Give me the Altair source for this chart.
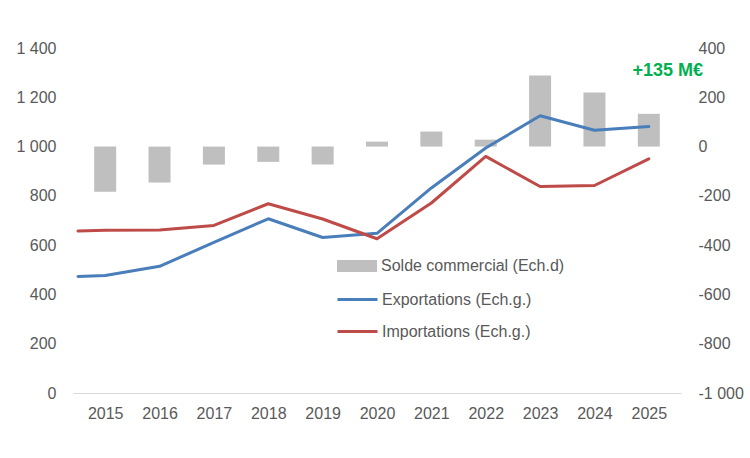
import altair as alt
import pandas as pd

years = [2015, 2016, 2017, 2018, 2019, 2020, 2021, 2022, 2023, 2024, 2025]
solde = [-183, -146, -73, -62, -73, 20, 61, 28, 288, 219, 133]

# lines start at the left edge of the plot area
line_years = [2014.5] + years
exports = [473, 477, 514, 611, 707, 631, 648, 832, 994, 1125, 1066, 1081]
imports = [657, 660, 661, 680, 768, 706, 626, 771, 960, 838, 842, 950]

left_ticks = [0, 200, 400, 600, 800, 1000, 1200, 1400]
right_ticks = [-1000, -800, -600, -400, -200, 0, 200, 400]

S_NAME = "Solde commercial (Ech.d)"
E_NAME = "Exportations (Ech.g.)"
I_NAME = "Importations (Ech.g.)"

bars_df = pd.DataFrame({"year": years, "value": solde, "series": S_NAME})
lines_df = pd.concat([
    pd.DataFrame({"year": line_years, "value": exports, "series": E_NAME}),
    pd.DataFrame({"year": line_years, "value": imports, "series": I_NAME}),
])

GREY = "#595959"
label_expr = "replace(replace(format(datum.value, ','), ',', ' '), '\u2212', '-')"

x_enc = alt.X(
    "year:Q",
    scale=alt.Scale(domain=[2014.5, 2025.5], nice=False, zero=False),
    axis=alt.Axis(values=years, format="d", title=None, ticks=False, grid=False,
                  domainColor="#D9D9D9", domainWidth=1, labelColor=GREY,
                  labelFontSize=16, labelPadding=12, labelFlush=False),
)

bars = alt.Chart(bars_df).mark_bar(size=22, color="#BFBFBF").encode(
    x=x_enc,
    y=alt.Y("value:Q",
            scale=alt.Scale(domain=[-1000, 400], nice=False),
            axis=alt.Axis(orient="right", values=right_ticks, title=None, grid=False,
                          ticks=False, domain=False, labelColor=GREY, labelFontSize=16,
                          labelPadding=17, labelExpr=label_expr)),
    fill=alt.Fill("series:N",
                  scale=alt.Scale(domain=[S_NAME], range=["#BFBFBF"]),
                  legend=alt.Legend(orient="none", legendX=274, legendY=208, title=None,
                                    symbolType="M-2,-0.6H2V0.6H-2Z", symbolSize=400,
                                    symbolStrokeWidth=0, labelFontSize=16, labelColor=GREY,
                                    labelOffset=14, labelLimit=400, padding=0, offset=0)),
)

lines = alt.Chart(lines_df).mark_line(strokeWidth=3, strokeJoin="round", strokeCap="round").encode(
    x=x_enc,
    y=alt.Y("value:Q",
            scale=alt.Scale(domain=[0, 1400], nice=False),
            axis=alt.Axis(orient="left", values=left_ticks, title=None, grid=False,
                          ticks=False, domain=False, labelColor=GREY, labelFontSize=16,
                          labelPadding=17, labelExpr=label_expr)),
    color=alt.Color("series:N",
                    scale=alt.Scale(domain=[E_NAME, I_NAME], range=["#4A7EBB", "#BE4B48"]),
                    legend=alt.Legend(orient="none", legendX=273, legendY=240, title=None,
                                      symbolType="M-2,0H2", symbolSize=400,
                                      symbolStrokeWidth=3, labelFontSize=16, labelColor=GREY,
                                      labelOffset=13, labelLimit=400, rowPadding=12,
                                      padding=0, offset=0)),
    detail="series:N",
)

note = alt.Chart(pd.DataFrame({"t": ["+135 M\u20ac"]})).mark_text(
    fontSize=18, fontWeight="bold", color="#00B050", align="center", baseline="middle", dx=19
).encode(x=alt.datum(2025), y=alt.value(23), text="t:N")

chart = alt.layer(bars, lines, note).resolve_scale(
    y="independent", color="independent"
).properties(
    width=608, height=345,
    padding={"left": 73, "top": 48, "right": 69, "bottom": 65},
    autosize=alt.AutoSizeParams(type="none"),
).configure(font="Liberation Sans").configure_view(stroke=None)

chart.save("out.html", embed_options={"renderer": "svg", "actions": False})
